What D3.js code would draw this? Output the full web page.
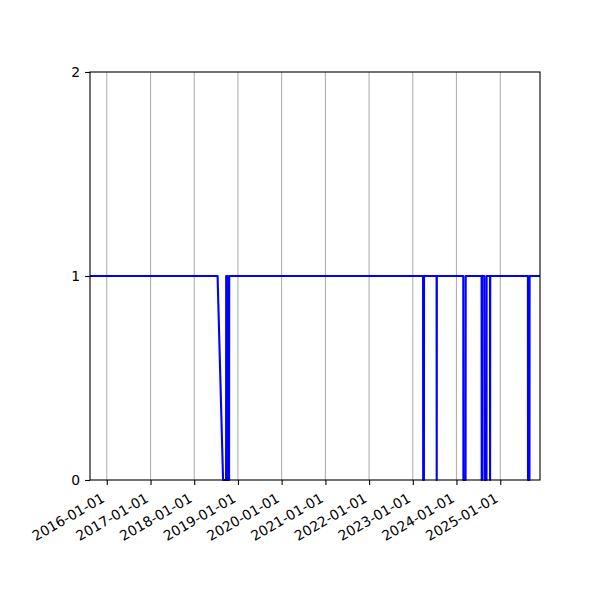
<!DOCTYPE html>
<html>
<head>
<meta charset="utf-8">
<script src="https://cdn.jsdelivr.net/npm/d3@7"></script>
<style>
    body { margin: 0; background: #fff; }
    text { font-family: "DejaVu Sans", sans-serif; }
</style>
</head>
<body>
<div class="status-chart"></div>
<script>

// change points of the series (daily status, 1 = up, 0 = down)
const dates = [
    "2015-08-14", "2018-07-15", "2018-08-30", "2018-09-24", "2018-09-25",
    "2018-10-05", "2018-10-06", "2018-10-19", "2018-10-20",
    "2023-03-28", "2023-03-29", "2023-04-04", "2023-04-05",
    "2023-07-19", "2023-07-20", "2023-07-21",
    "2024-02-27", "2024-02-28", "2024-03-17", "2024-03-18",
    "2024-07-29", "2024-07-30", "2024-08-01", "2024-08-02",
    "2024-08-21", "2024-08-22", "2024-09-08", "2024-09-09",
    "2024-10-07", "2024-10-08", "2024-10-09",
    "2025-08-20", "2025-08-21", "2025-09-02", "2025-09-03",
    "2025-11-29"
];
const values = [
    1, 1, 0, 0, 1,
    1, 0, 0, 1,
    1, 0, 0, 1,
    1, 0, 1,
    1, 0, 0, 1,
    1, 0, 0, 1,
    1, 0, 0, 1,
    1, 0, 1,
    1, 0, 0, 1,
    1
];

const xTickLabels = ["2016-01-01", "2017-01-01", "2018-01-01", "2019-01-01", "2020-01-01",
                     "2021-01-01", "2022-01-01", "2023-01-01", "2024-01-01", "2025-01-01"];
const yTicks = [0, 1, 2];

const parse = d3.utcParse("%Y-%m-%d");
const data = dates.map((d, i) => ({date: parse(d), value: values[i]}));

const width = 600;
const height = 600;
const margin = ({top: 72, right: 60, bottom: 120, left: 90});
const fontSize = 13.9;

const x = d3.scaleUtc()
    .domain(d3.extent(data, d => d.date))
    .range([margin.left, width - margin.right]);

const y = d3.scaleLinear()
    .domain([0, 2])
    .range([height - margin.bottom, margin.top]);

const line = d3.line()
    .x(d => x(d.date))
    .y(d => y(d.value));

const svg = d3.select(".status-chart").append("svg")
    .attr("width", width)
    .attr("height", height)
    .attr("viewBox", `0 0 ${width} ${height}`);

// vertical grid
svg.append("g")
    .selectAll("line")
    .data(xTickLabels.map(parse))
    .join("line")
    .attr("x1", d => x(d))
    .attr("x2", d => x(d))
    .attr("y1", margin.top)
    .attr("y2", height - margin.bottom)
    .attr("stroke", "#b0b0b0")
    .attr("stroke-width", 1.1);

svg.append("path")
    .datum(data)
    .attr("fill", "none")
    .attr("stroke", "#0000ff")
    .attr("stroke-width", 2.1)
    .attr("stroke-linejoin", "round")
    .attr("d", line);

// frame
svg.append("rect")
    .attr("x", margin.left)
    .attr("y", margin.top)
    .attr("width", width - margin.left - margin.right)
    .attr("height", height - margin.top - margin.bottom)
    .attr("fill", "none")
    .attr("stroke", "#000")
    .attr("stroke-width", 1.1);

const xAxis = g => g
    .attr("transform", `translate(0,${height - margin.bottom})`)
    .call(d3.axisBottom(x)
        .tickValues(xTickLabels.map(parse))
        .tickFormat(d3.utcFormat("%Y-%m-%d"))
        .tickSize(4.9)
        .tickSizeOuter(0))
    .call(g => g.select(".domain").remove())
    .call(g => g.selectAll(".tick line").attr("stroke", "#000").attr("stroke-width", 1.1))
    .call(g => g.selectAll(".tick text")
        .attr("fill", "#000")
        .attr("font-size", fontSize)
        .attr("font-family", "DejaVu Sans")
        .attr("text-anchor", "end")
        .attr("y", 0)
        .attr("dy", 0)
        .attr("transform", "translate(-1.6,21) rotate(-30)"));

const yAxis = g => g
    .attr("transform", `translate(${margin.left},0)`)
    .call(d3.axisLeft(y).tickValues(yTicks).tickFormat(d3.format("d")).tickSize(4.9).tickPadding(4.9))
    .call(g => g.select(".domain").remove())
    .call(g => g.selectAll(".tick line").attr("stroke", "#000").attr("stroke-width", 1.1))
    .call(g => g.selectAll(".tick text")
        .attr("fill", "#000")
        .attr("font-size", fontSize)
        .attr("font-family", "DejaVu Sans"));

svg.append("g").call(xAxis);
svg.append("g").call(yAxis);

</script>
</body>
</html>
